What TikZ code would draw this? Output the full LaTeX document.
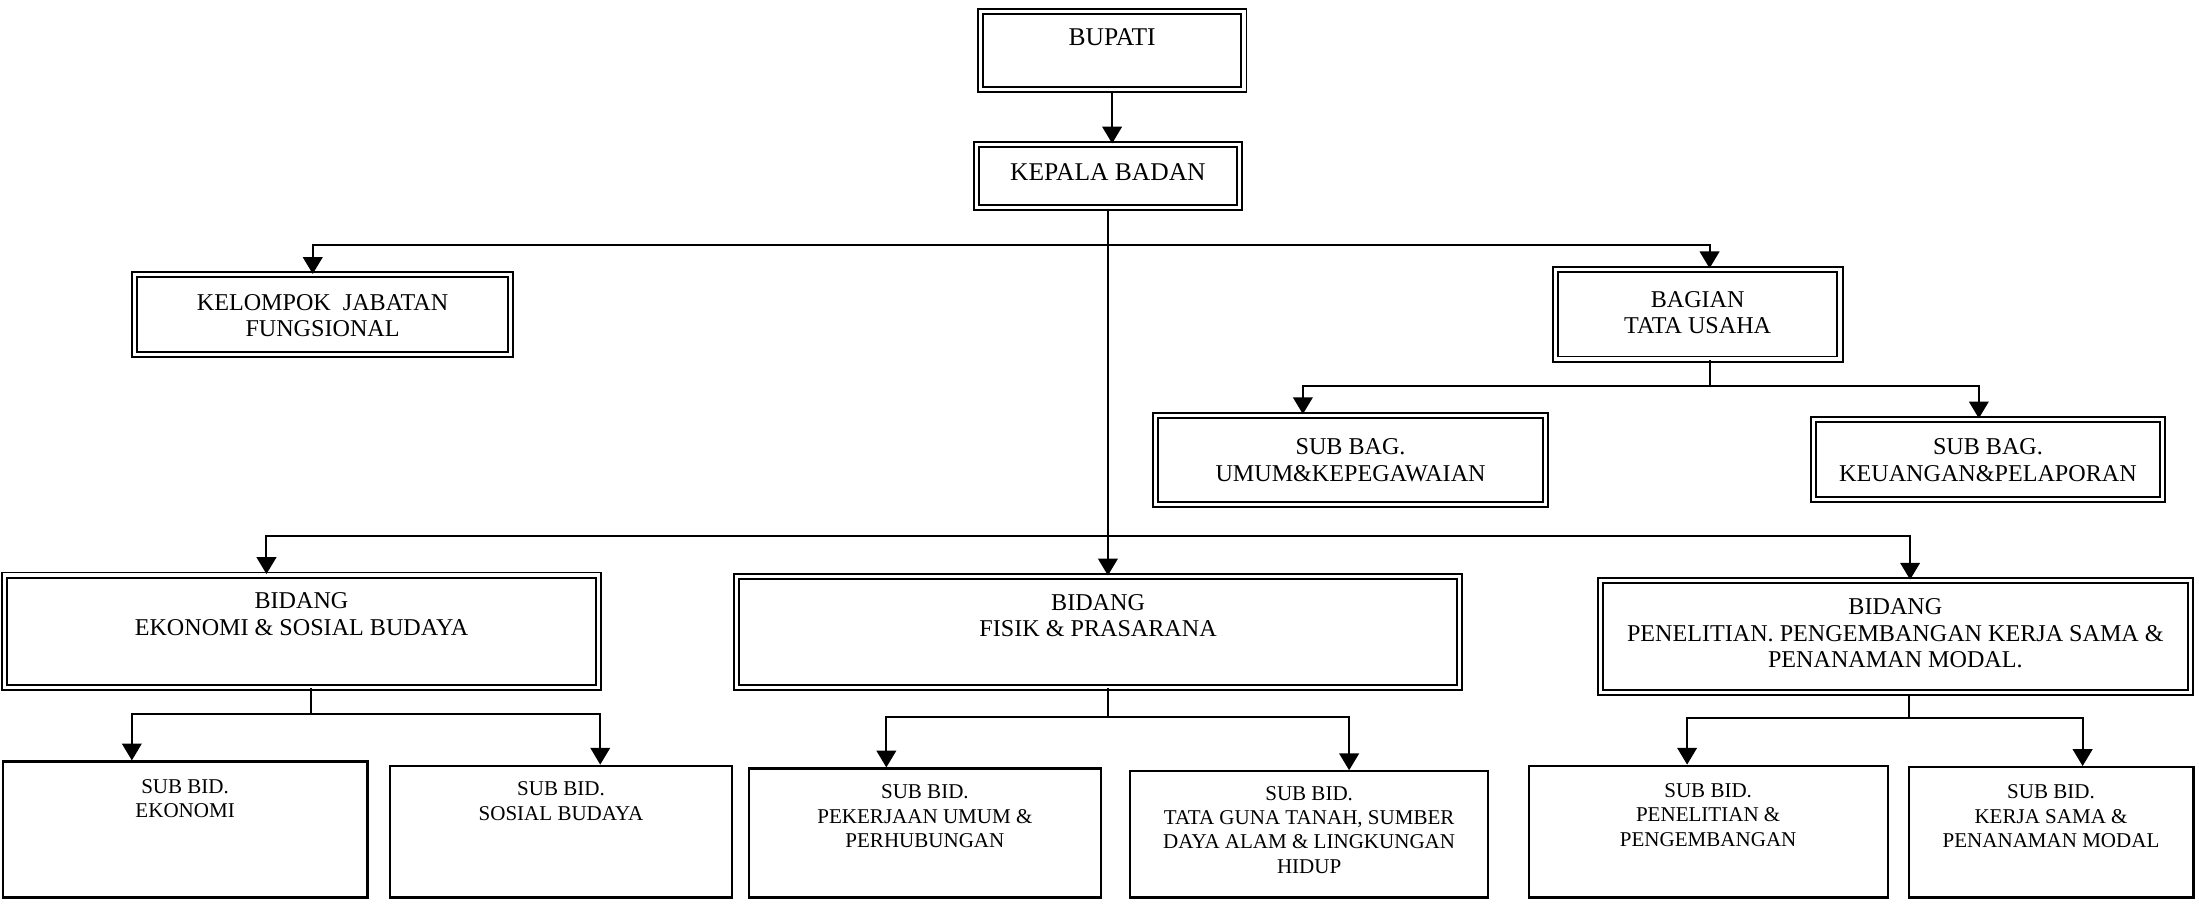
\documentclass[tikz,border=0pt]{standalone}
\usepackage{fontspec}
\setmainfont{Liberation Serif}
\usetikzlibrary{arrows.meta,fit}

\begin{document}
\begin{tikzpicture}[x=0.5pt,y=-0.5pt,
  dbox/.style={draw, double, line width=0.7pt, double distance=1.1pt, inner sep=0pt},
  sbox/.style={draw, line width=0.8pt, inner sep=0pt},
  head/.style={anchor=north, align=center, inner sep=0pt, font=\fontsize{9.1}{9.5}\selectfont},
  uptext/.style={anchor=north, align=center, inner sep=0pt, font=\fontsize{8.6}{9.5}\selectfont},
  lowtext/.style={anchor=north, align=center, inner sep=0pt, font=\fontsize{7.5}{8.7}\selectfont},
  link/.style={line width=0.7pt},
  arr/.style={link, -{Triangle[length=6pt,width=7pt]}}
]
\useasboundingbox (0,0) rectangle (1568,644);

% ---- boxes ----
\node[dbox, fit={(699,8) (887,64)}] (bupati) {};
\node[dbox, fit={(696,103) (884,148)}] (kepala) {};
\node[dbox, fit={(96,196) (364,253)}] (kelompok) {};
\node[dbox, fit={(1109,192) (1312,256)}] (bagian) {};
\node[dbox, fit={(824,296) (1102,360)}] (umum) {};
\node[dbox, fit={(1293,299) (1542,356)}] (keuangan) {};
\node[dbox, fit={(3,410) (427,490)}] (ekonomi) {};
\node[dbox, fit={(525,411) (1041,490)}] (fisik) {};
\node[dbox, fit={(1141,414) (1562,494)}] (penelitian) {};
\node[sbox, fit={(2,543) (262,640)}] (subekon) {};
\node[sbox, fit={(278,546) (522,640)}] (subsosial) {};
\node[sbox, fit={(534,548) (785,640)}] (subpu) {};
\node[sbox, fit={(806,550) (1061,640)}] (subtata) {};
\node[sbox, fit={(1090,546) (1346,640)}] (subpp) {};
\node[sbox, fit={(1361,547) (1564,640)}] (subkerja) {};

% ---- texts ----
\node[head] (bupati-t) at ([yshift=-6.5pt]bupati.north) {BUPATI};
\node[head] (kepala-t) at ([yshift=-7pt]kepala.north) {KEPALA BADAN};
\node[uptext] (kelompok-t) at ([yshift=-7pt]kelompok.north) {KELOMPOK\ \ JABATAN\\FUNGSIONAL};
\node[uptext] (bagian-t) at ([yshift=-8pt]bagian.north) {BAGIAN\\TATA USAHA};
\node[uptext] (umum-t) at ([yshift=-8.5pt]umum.north) {SUB BAG.\\UMUM\&KEPEGAWAIAN};
\node[uptext] (keuangan-t) at ([yshift=-7pt]keuangan.north) {SUB BAG.\\KEUANGAN\&PELAPORAN};
\node[uptext] (ekonomi-t) at ([yshift=-6.5pt]ekonomi.north) {BIDANG\\EKONOMI \& SOSIAL BUDAYA};
\node[uptext] (fisik-t) at ([yshift=-6.5pt]fisik.north) {BIDANG\\FISIK \& PRASARANA};
\node[uptext] (penelitian-t) at ([yshift=-6.5pt]penelitian.north) {BIDANG\\PENELITIAN. PENGEMBANGAN KERJA SAMA \&\\PENANAMAN MODAL.};
\node[lowtext] (subekon-t) at ([yshift=-6.5pt]subekon.north) {SUB BID.\\EKONOMI};
\node[lowtext] (subsosial-t) at ([yshift=-6pt]subsosial.north) {SUB BID.\\SOSIAL BUDAYA};
\node[lowtext] (subpu-t) at ([yshift=-6pt]subpu.north) {SUB BID.\\PEKERJAAN UMUM \&\\PERHUBUNGAN};
\node[lowtext] (subtata-t) at ([yshift=-5.5pt]subtata.north) {SUB BID.\\TATA GUNA TANAH, SUMBER\\DAYA ALAM \& LINGKUNGAN\\HIDUP};
\node[lowtext] (subpp-t) at ([yshift=-6.5pt]subpp.north) {SUB BID.\\PENELITIAN \&\\PENGEMBANGAN};
\node[lowtext] (subkerja-t) at ([yshift=-6.5pt]subkerja.north) {SUB BID.\\KERJA SAMA \&\\PENANAMAN MODAL};

% ---- main line of command ----
\draw[arr] (bupati.south) -- (bupati.south |- kepala.north);
\draw[arr] (kepala.south) -- (kepala.south |- fisik.north);

\coordinate (ja) at (790,175);
\draw[arr] (ja) -| ([xshift=-3.5pt]kelompok.north);
\draw[arr] (ja) -| ([xshift=4.25pt]bagian.north);

\coordinate (jb) at (790,382);
\draw[arr] (jb) -| ([xshift=-12.5pt]ekonomi.north);
\draw[arr] (jb) -| ([xshift=5.25pt]penelitian.north);

% ---- secretariat ----
\coordinate (jc) at (1219,275);
\draw[link] ([xshift=4.25pt]bagian.south) -- (jc);
\draw[arr] (jc) -| ([xshift=-17pt]umum.north);
\draw[arr] (jc) -| ([xshift=-3.25pt]keuangan.north);

% ---- sub-fields ----
\coordinate (jd) at (222,509);
\draw[link] ([xshift=3.5pt]ekonomi.south) -- (jd);
\draw[arr] (jd) -| ([xshift=-19pt]subekon.north);
\draw[arr] (jd) -| ([xshift=14pt]subsosial.north);

\coordinate (je) at (790,511);
\draw[link] ([xshift=3.5pt]fisik.south) -- (je);
\draw[arr] (je) -| ([xshift=-13.75pt]subpu.north);
\draw[arr] (je) -| ([xshift=14.25pt]subtata.north);

\coordinate (jf) at (1361,512);
\draw[link] ([xshift=4.75pt]penelitian.south) -- (jf);
\draw[arr] (jf) -| ([xshift=-7.5pt]subpp.north);
\draw[arr] (jf) -| ([xshift=11.25pt]subkerja.north);
\end{tikzpicture}
\end{document}
